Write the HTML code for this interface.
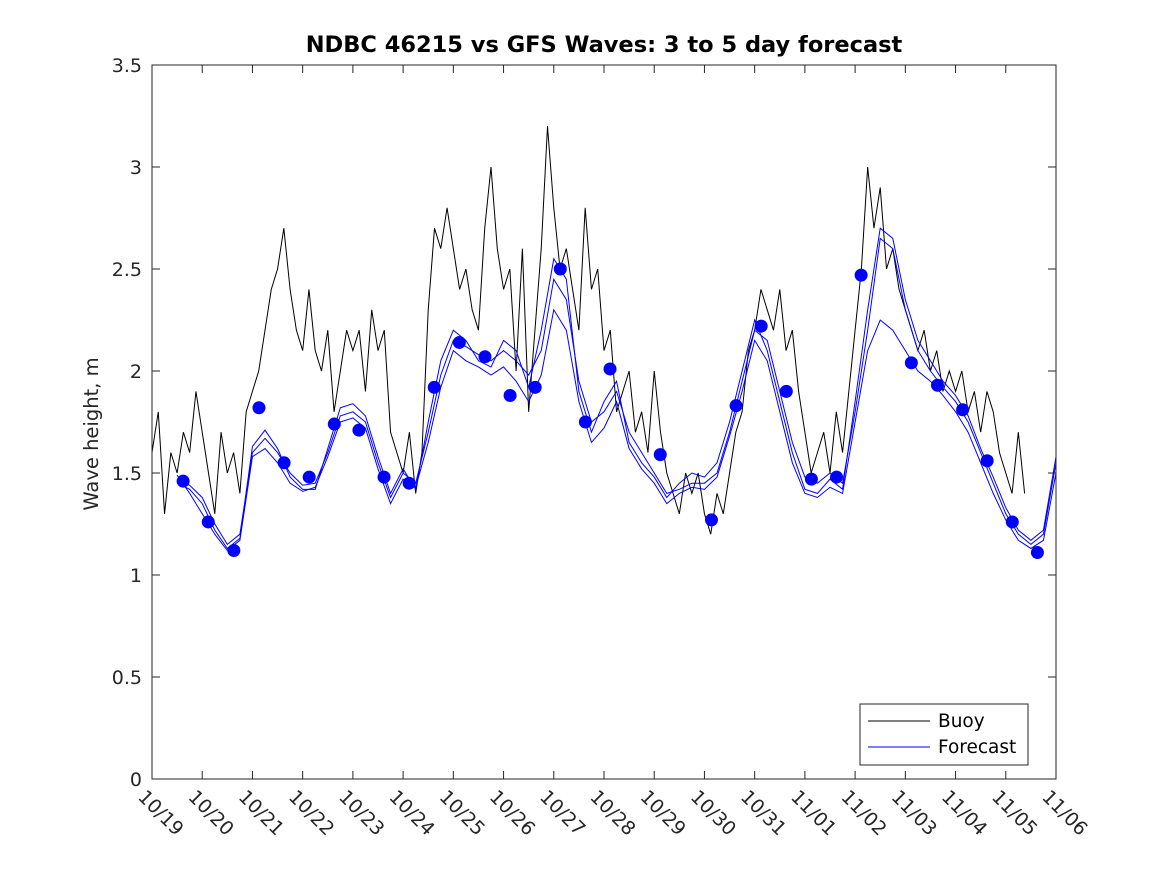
<!DOCTYPE html>
<html><head><meta charset="utf-8"><style>
body{margin:0;background:#fff;}
svg{display:block;font-family:"DejaVu Sans",sans-serif;}
</style></head><body>
<svg id="chart" width="1167" height="875">
<rect x="0" y="0" width="1167" height="875" fill="#fff"/>
<text x="604" y="52" text-anchor="middle" font-size="22.5" font-weight="bold" fill="#000">NDBC 46215 vs GFS Waves: 3 to 5 day forecast</text>
<text transform="translate(98,434) rotate(-90)" text-anchor="middle" font-size="19.5" fill="#262626">Wave height, m</text>
<g id="axes"></g>
<g id="series"></g>
<rect x="152" y="65" width="904" height="714" fill="none" stroke="#262626" stroke-width="1"/>
<g>
<rect x="860" y="704" width="168" height="61" fill="#fff" stroke="#262626"/>
<line x1="868" y1="721" x2="930" y2="721" stroke="#000"/>
<text x="938" y="727" font-size="18.5" fill="#000">Buoy</text>
<line x1="868" y1="747" x2="930" y2="747" stroke="#0000ff"/>
<text x="938" y="753" font-size="18.5" fill="#000">Forecast</text>
</g>
</svg>
<script>
const xLabels=["10/19","10/20","10/21","10/22","10/23","10/24","10/25","10/26","10/27","10/28","10/29","10/30","10/31","11/01","11/02","11/03","11/04","11/05","11/06"];
const yTicks=[0,0.5,1,1.5,2,2.5,3,3.5];
const buoyVals=[1.6,1.8,1.3,1.6,1.5,1.7,1.6,1.9,
1.7,1.5,1.3,1.7,1.5,1.6,1.4,1.8,
1.9,2.0,2.2,2.4,2.5,2.7,2.4,2.2,
2.1,2.4,2.1,2.0,2.2,1.8,2.0,2.2,
2.1,2.2,1.9,2.3,2.1,2.2,1.7,1.6,
1.5,1.7,1.4,1.6,2.3,2.7,2.6,2.8,
2.6,2.4,2.5,2.3,2.2,2.7,3.0,2.6,
2.4,2.5,2.0,2.6,1.8,2.2,2.6,3.2,
2.8,2.5,2.6,2.4,2.2,2.8,2.4,2.5,
2.1,2.2,1.8,1.9,2.0,1.7,1.8,1.6,
2.0,1.7,1.5,1.4,1.3,1.5,1.4,1.5,
1.3,1.2,1.4,1.3,1.5,1.7,1.8,2.1,
2.2,2.4,2.3,2.2,2.4,2.1,2.2,1.9,
1.7,1.5,1.6,1.7,1.5,1.8,1.6,1.9,
2.2,2.5,3.0,2.7,2.9,2.5,2.6,2.4,
2.3,2.2,2.1,2.2,2.0,2.1,1.9,2.0,
1.9,2.0,1.8,1.9,1.7,1.9,1.8,1.6,
1.5,1.4,1.7,1.4];
const buoyStep=0.125;
const fcStart=0.5, fcStep=0.25;
const fcA=[1.47,1.44,1.38,1.25,1.15,1.2,1.6,1.67,1.6,1.5,1.44,1.45,1.6,1.78,1.8,1.75,1.55,1.38,1.5,1.45,1.7,1.98,2.15,2.12,2.08,2.05,2.1,2.05,1.98,2.1,2.45,2.35,1.95,1.75,1.8,1.9,1.7,1.6,1.5,1.4,1.42,1.45,1.45,1.5,1.7,1.95,2.2,2.15,1.9,1.65,1.48,1.45,1.5,1.45,1.8,2.2,2.65,2.6,2.3,2.1,2.0,1.92,1.85,1.75,1.6,1.45,1.3,1.2,1.15,1.2,1.55];
const fcB=[1.45,1.42,1.35,1.22,1.13,1.18,1.63,1.71,1.62,1.48,1.42,1.42,1.62,1.82,1.84,1.78,1.58,1.4,1.52,1.42,1.75,2.05,2.2,2.15,2.05,2.02,2.15,2.1,1.92,2.2,2.55,2.45,1.9,1.7,1.85,1.95,1.65,1.55,1.48,1.38,1.45,1.5,1.48,1.55,1.75,2.0,2.25,2.1,1.85,1.6,1.42,1.4,1.47,1.42,1.85,2.3,2.7,2.65,2.35,2.15,2.05,1.95,1.88,1.78,1.62,1.48,1.33,1.22,1.17,1.22,1.58];
const fcC=[1.49,1.4,1.3,1.2,1.12,1.17,1.58,1.62,1.55,1.45,1.41,1.43,1.58,1.75,1.77,1.72,1.52,1.35,1.47,1.43,1.65,1.92,2.1,2.05,2.02,1.98,2.02,1.95,1.85,1.98,2.3,2.2,1.85,1.65,1.72,1.85,1.62,1.52,1.45,1.35,1.4,1.43,1.42,1.48,1.68,1.9,2.15,2.05,1.8,1.55,1.4,1.38,1.43,1.4,1.75,2.1,2.25,2.2,2.1,2.0,1.95,1.88,1.8,1.7,1.55,1.4,1.27,1.17,1.13,1.17,1.5];
const dotDays=[0.62,1.12,1.63,2.13,2.63,3.13,3.63,4.12,4.62,5.12,5.62,6.12,6.63,7.13,7.63,8.13,8.63,9.12,10.12,11.14,11.63,12.13,12.63,13.13,13.63,14.12,15.12,15.64,16.14,16.63,17.13,17.63];
const dotVals=[1.46,1.26,1.12,1.82,1.55,1.48,1.74,1.71,1.48,1.45,1.92,2.14,2.07,1.88,1.92,2.50,1.75,2.01,1.59,1.27,1.83,2.22,1.90,1.47,1.48,2.47,2.04,1.93,1.81,1.56,1.26,1.11];

const X0=152,X1=1056,Y0=779,Y1=65;
const xs=d=>X0+(X1-X0)*d/18;
const ys=v=>Y0-(Y0-Y1)*v/3.5;
const NS="http://www.w3.org/2000/svg";
const axes=document.getElementById('axes'),ser=document.getElementById('series');
function mk(tag,attrs,parent){const e=document.createElementNS(NS,tag);for(const k in attrs)e.setAttribute(k,attrs[k]);parent.appendChild(e);return e;}
yTicks.forEach(v=>{
  const y=ys(v);
  const t=mk('line',{x1:X0,x2:X0+8,y1:y,y2:y,stroke:'#262626'},axes);
  
  
  const t2=mk('line',{x1:X1-8,x2:X1,y1:y,y2:y,stroke:'#262626'},axes);
  
  
  const l=mk('text',{x:X0-10,y:y+7,'text-anchor':'end','font-size':19,fill:'#262626'},axes);
  l.textContent=String(v);
  
  
});
xLabels.forEach((s,i)=>{
  const x=xs(i);
  const t=mk('line',{x1:x,x2:x,y1:Y0,y2:Y0-8,stroke:'#262626'},axes);
  
  
  const t2=mk('line',{x1:x,x2:x,y1:Y1,y2:Y1+8,stroke:'#262626'},axes);
  
  
  const l=mk('text',{transform:`translate(${x-15},${Y0+19}) rotate(45)`,'font-size':19,fill:'#262626'},axes);
  l.textContent=s;
  
  
});
let d='';
buoyVals.forEach((v,i)=>{const x=xs(i*buoyStep),y=ys(v);d+=(i?`L${x},${y}`:`M${x},${y}`);});
const bp=mk('path',{d:d,fill:'none',stroke:'#000','stroke-width':1},ser);


[fcA,fcB,fcC].forEach((arr,k)=>{
  const p=mk('polyline',{points:arr.map((v,i)=>xs(fcStart+i*fcStep)+','+ys(v)).join(' '),fill:'none',stroke:'#0000ff','stroke-width':1},ser);
  
  
});
dotDays.forEach((dd,i)=>{
  const c=mk('circle',{cx:xs(dd),cy:ys(dotVals[i]),r:6.5,fill:'#0000ff'},ser);
  
  
});
</script>
</body></html>
